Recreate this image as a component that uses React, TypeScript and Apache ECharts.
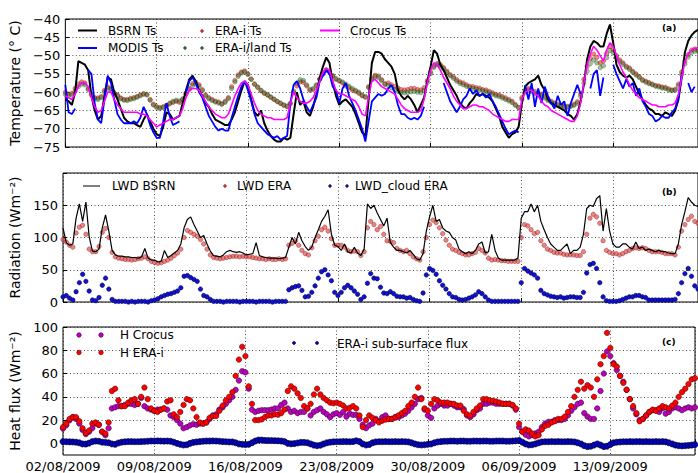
import React, { useEffect, useRef } from "react";
import * as echarts from "echarts";

// time step between samples, in days, starting 02/08/2009 00:00
const STEP = 0.25;
const START_UTC = Date.UTC(2009, 7, 2);
const X_MAX = 48.5;

// ---- Panel (a): surface temperature (deg C)
const BSRN_TS = [
  -62, -62.5, -63.5, -60, -51.5, -52, -52.5, -54, -61, -65, -67.5, -66.5, -61, -56, -56.5, -60,
  -62, -64.5, -67, -68, -68.5, -68.5, -69, -69.5, -67.5, -66, -68, -70, -71.5, -72, -69.5, -65.5,
  -66, -67.5, -67, -66.5, -63, -59.5, -56.5, -55.5, -57, -59.5, -61, -63, -64, -66, -67.5, -68,
  -68.5, -69, -69, -67.5, -65.5, -62.5, -59.5, -57, -58, -62, -65.5, -66.5, -65, -68.5, -70.5, -72,
  -73, -73.5, -73.5, -72.5, -73, -72.5, -66, -60, -63.5, -62.5, -65.5, -66.5, -64, -60.5, -56, -53,
  -50.5, -52, -57.5, -61, -63.5, -62.5, -62, -63, -64, -66, -68.5, -71, -72, -62, -52, -49,
  -49, -49.5, -51, -52, -53, -55, -59.5, -61, -62, -61, -62, -63.5, -65.5, -63.5, -61.5, -57,
  -53, -48.5, -49.5, -52.5, -54, -56, -58, -59.5, -61, -63, -64, -64.5, -63, -62, -60.5, -61,
  -60.5, -61, -61.5, -62.5, -64.5, -66.5, -69.5, -71, -72.5, -71.5, -71, -69.5, -63, -58.5, -57.5, -57,
  -56.5, -55.5, -58, -59.5, -62, -63, -63.5, -64, -64.5, -65, -66, -66.5, -67.5, -66, -62.5, -58,
  -51, -47.5, -46, -46.5, -47.5, -47.5, -44, -41.5, -46.5, -52.5, -54.5, -55.5, -56, -55.5, -56.5, -58.5,
  -60.5, -62, -63.5, -64.5, -65, -66, -66, -66.5, -65.5, -66, -66.5, -65, -62, -56, -49, -46,
  -44.5, -43.5, -43, -43,
];
const MODIS_TS = [
  -58, -65.5, -66, -64.5, null, null, null, -54, -55, -63, -67.5, -68.5, -62, -55.5, -57.5, -62,
  -66, -67.5, -68.5, -68.5, -68.5, -68, -68.5, -67, -64, -66, -69, -71, -72.5, -72.5, -68, -63,
  -66.5, -69, -68.5, -68, null, -60, -57, -56, -57.5, -60, -61.5, -64, -66.5, -68, -69.5, -70.5,
  -70, -70.5, -70.5, -67, -64, -61, -58.5, -57, -59.5, -62.5, -66, -68.5, -69.5, -70.5, -71.5, -72,
  -72.5, -72, -73, -72.5, -72, -63, -58, -57, -59, -62, -64, -65.5, -63.5, -61.5, -57, -55.5,
  -54, -55, -58.5, -59.5, -63, -59, -57.5, -61, -63, -65, -67.5, -70, -73.5, -68, -62.5, -61.5,
  -60.5, -61, -60.5, -59, -58, -60, -63.5, -66, -66, -67, -67.5, -67, -67.5, -66.5, -64, null,
  null, null, null, null, -57.5, -60, -62.5, -64, -65.5, -64, -62, -61, -59, -60.5, -59.5, -61,
  -60.5, -61.5, -60.5, -62.5, -64, -66, -68, -70, -71.5, -71, -70.5, -71, null, -58, -62, -57.5,
  -64, -59, -63, -58.5, -61, -63, -64.5, -61, -63.5, -62.5, -66.5, -63, -60.5, -58, -60.5, null,
  null, -59, -55, -54, -61, -56, null, null, -52.5, -55, -57, -59, -56.5, -58.5, -57.5, -61,
  -59, -62.5, -64, -66, -66.5, -68, -67.5, -66.5, -67, -67, -65.5, -64.5, -61.5, -55, null, -57.5,
  -60, -58.5, null, null,
];
const CROCUS_TS = [
  -61, -61.5, -62, -60.5, -58.5, -57.5, -57.5, -58.5, -61.5, -64, -65.5, -65, -62.5, -60, -60, -62,
  -63.5, -64.5, -65.5, -65.5, -65.5, -65.5, -65.5, -66, -66, -66.5, -67.5, -68.5, -69.5, -69, -68.5, -68,
  -67.5, -67.5, -67, -66.5, -64.5, -61.5, -59.5, -59, -59, -59.5, -61, -62.5, -64, -65, -66, -66.5,
  -67, -67, -66, -63.5, -61, -59, -57.5, -57, -58, -60.5, -63, -65, -66, -66.5, -67, -67,
  -67.5, -67.5, -67.5, -67.5, -67, -63, -60, -61.5, -62.5, -63, -63, -62.5, -61.5, -59.5, -57, -54.5,
  -53.5, -54, -57, -59.5, -60.5, -60.5, -61, -61.5, -62, -62.5, -64, -66, -66.5, -61, -57, -56.5,
  -57.5, -58.5, -59, -59.5, -60, -60.5, -62, -63.5, -64.5, -65, -65.5, -65.5, -65.5, -65, -62, -57.5,
  -54, -52, -52.5, -54, -56, -57.5, -59, -61, -62.5, -63.5, -64.5, -64.5, -64, -63.5, -63.5, -64,
  -64, -64.5, -65, -66, -66.5, -67, -67.5, -68, -68, -67.5, -67.5, -67.5, -62, -60, -59.5, -59.5,
  -60.5, -61, -62.5, -63.5, -64, -65, -65.5, -66, -66.5, -67, -67.5, -68, -68, -66.5, -63, -57.5,
  -52.5, -49.5, -47.5, -48.5, -50, -51.5, -48.5, -46.5, -47.5, -50, -52.5, -54.5, -56, -58, -59.5, -60.5,
  -61.5, -62, -62.5, -63, -63.5, -63.5, -64, -64, -64, -63.5, -63.5, -63, -60.5, -56, -51.5, -49.5,
  -48.5, -48, -48, -48,
];
const ERA_TS = [
  -60, -60.5, -60.3, -59, -57.8, -57.2, -57.5, -59, -60.5, -61.5, -61.6, -61.2, -59.5, -58.6, -59, -60.2,
  -60.8, -61.6, -62, -62, -61.7, -61.5, -61.2, -60.8, -60.4, -60.6, -62, -63.3, -63.9, -64.2, -64, -63.6,
  -63.2, -62.8, -62.5, -62.8, -62, -60.3, -59, -57.7, -57.3, -58, -59.3, -60.8, -61.5, -62, -62.5, -62.7,
  -63.2, -62.5, -61.5, -58.5, -56.8, -55.3, -54.5, -54.2, -55, -56.4, -57.8, -58.6, -59.6, -60.3, -60.8, -61.4,
  -62, -62.6, -63.1, -63.6, -64, -63.2, -60, -58.3, -57.2, -57.3, -58.3, -59.5, -59.3, -58.2, -56.5, -55,
  -53.9, -54.3, -55.5, -56.5, -57, -57.5, -58.3, -58.8, -59.4, -59.8, -60.3, -61, -61.4, -58.5, -56.2, -55.4,
  -55.6, -56.6, -57.7, -57.5, -58, -58.5, -58.9, -59.3, -59.4, -59.3, -59, -59, -59.3, -59.4, -58.8, -56.8,
  -54.5, -52.9, -52.2, -52.5, -53.3, -54.3, -55.2, -55.8, -56.6, -57.2, -57.5, -58, -58.4, -58.5, -58.8, -58.9,
  -59.3, -59.4, -59.8, -60.2, -60.6, -60.8, -61.2, -61.6, -62, -62.5, -63.4, -64.2, -61.5, -59.6, -59, -59.4,
  -59.8, -60.2, -60.6, -61.2, -62, -62.5, -63, -63.4, -63.6, -63.8, -63.9, -63.7, -63.3, -62.6, -60.5, -56.5,
  -53, -50.8, -49.6, -50.5, -52, -51.5, -49.4, -47.6, -48.4, -50, -51.2, -52, -52.9, -53.4, -54.3, -55,
  -55.8, -56.6, -57, -57.4, -57.8, -58.2, -58.3, -58.6, -58.7, -59.1, -59.4, -59.2, -57.8, -54.5, -51.5, -49.7,
  -48.5, -48.2, -48.3, -48.5,
];
const ERA_LAND_TS = [
  -60.6, -61, -60.8, -59.8, -58.5, -57.8, -58, -59.3, -60.8, -61.8, -62, -61.5, -60, -59, -59.3, -60.3,
  -61, -61.8, -62.2, -62.3, -62, -61.8, -61.4, -61, -60.6, -60.8, -62.2, -63.5, -64.2, -64.5, -64.2, -63.8,
  -63, -62.5, -62.2, -62.4, -61.8, -60.5, -59.3, -58.2, -57.8, -58.4, -59.6, -61, -61.8, -62.3, -62.7, -63,
  -63.3, -62.8, -61.8, -59, -57.2, -55.7, -54.8, -54.5, -55.2, -56.5, -57.8, -58.7, -59.5, -60.2, -60.7, -61.3,
  -61.9, -62.5, -63, -63.5, -63.8, -63, -59.7, -57.6, -56.6, -56.8, -58, -59.2, -59, -58, -56.4, -55,
  -54, -54.5, -55.6, -56.3, -56.7, -57.2, -57.8, -58.4, -59, -59.5, -60, -60.8, -61.2, -58.8, -56.6, -55.8,
  -56, -56.9, -57.9, -58.2, -58.8, -59.3, -59.8, -60.1, -60.2, -60.1, -59.9, -59.8, -60, -60.1, -59.5, -57.4,
  -55, -53.3, -52.5, -52.8, -53.6, -54.6, -55.5, -56.2, -57, -57.6, -58, -58.4, -58.8, -59, -59.2, -59.4,
  -59.7, -59.9, -60.2, -60.6, -61, -61.2, -61.6, -62, -62.4, -62.9, -63.6, -64.3, -62, -60, -59.4, -59.8,
  -60.3, -60.7, -61, -61.6, -62.3, -62.8, -63.2, -63.6, -63.8, -64, -64.1, -63.9, -63.6, -63, -61.2, -57.5,
  -54.3, -52.2, -51.2, -52, -53.3, -52.8, -50.6, -48.6, -49.2, -50.6, -51.6, -52.4, -53.2, -53.8, -54.6, -55.3,
  -56, -56.8, -57.3, -57.7, -58, -58.4, -58.6, -58.9, -59, -59.4, -59.6, -59.5, -58.3, -55.2, -52.3, -50.4,
  -49.2, -48.8, -48.8, -49,
];

// ---- Panel (b): longwave downward radiation (W m-2)
const LWD_BSRN = [
  115, 92, 88, 90, 130, 152, 125, 155, 101, 79, 78, 82, 115, 135, 110, 80,
  73, 71, 71, 70, 70, 69, 69, 68, 70, 83, 68, 65, 65, 62, 63, 80,
  69, 72, 76, 80, 90, 115, 128, 132, 120, 110, 100, 103, 90, 79, 72, 71,
  70, 73, 78, 80, 78, 77, 78, 76, 73, 74, 75, 92, 72, 70, 69, 68,
  68, 68, 67, 68, 69, 85, 100, 90, 108, 95, 86, 80, 85, 100, 112, 125,
  133, 143, 105, 88, 86, 80, 90, 78, 76, 85, 76, 72, 82, 152, 145, 150,
  138, 128, 118, 130, 92, 85, 80, 80, 78, 76, 80, 74, 67, 65, 75, 110,
  132, 150, 125, 128, 115, 110, 108, 100, 96, 82, 78, 75, 78, 75, 80, 90,
  93, 76, 78, 105, 80, 68, 65, 65, 65, 65, 65, 68, 130, 140, 140, 152,
  140, 150, 125, 112, 100, 90, 85, 80, 80, 85, 90, 75, 80, 80, 85, 105,
  145, 150, 148, 160, 165, 110, 145, 110, 90, 85, 85, 90, 90, 85, 82, 93,
  83, 85, 80, 82, 80, 78, 80, 78, 78, 76, 75, 75, 90, 120, 140, 162,
  155, 150, 148, 150,
];
const LWD_ERA = [
  97, 93, 88, 85, 107, 116, 119, 105, 82, 78, 78, 86, 108, 114, 100, 77,
  70, 68, 67, 66, 66, 65, 66, 67, 68, 70, 67, 63, 61, 60, 61, 63,
  65, 68, 72, 76, 82, 100, 111, 108, 105, 102, 97, 90, 82, 73, 69, 68,
  67, 68, 69, 70, 71, 71, 70, 71, 70, 70, 69, 68, 67, 67, 66, 67,
  66, 66, 67, 66, 67, 88, 91, 95, 88, 80, 75, 73, 84, 95, 102, 112,
  116, 110, 98, 88, 88, 88, 85, 80, 78, 79, 78, 72, 78, 115, 125, 120,
  112, 117, 105, 95, 94, 92, 83, 80, 78, 80, 75, 70, 67, 65, 78, 100,
  120, 127, 123, 115, 106, 96, 88, 82, 80, 77, 75, 73, 73, 75, 77, 83,
  80, 76, 68, 65, 66, 65, 64, 64, 63, 63, 63, 63, 100, 120, 118, 112,
  106, 108, 95, 88, 82, 80, 77, 76, 76, 74, 73, 73, 73, 72, 72, 78,
  105, 130, 136, 132, 122, 95, 80, 77, 75, 75, 73, 75, 78, 80, 83, 84,
  83, 84, 83, 80, 78, 78, 78, 77, 75, 75, 75, 73, 85, 110, 120, 128,
  133, 125, 122, 120,
];
const LWD_CLOUD_ERA = [
  8, 10, 6, 3, 16, 30, 43, 32, 17, 3, 2, 7, 26, 37, 20, 4,
  1, 1, 1, 1, 0, 1, 0, 1, 1, 1, 0, 2, 3, 5, 8, 10,
  12, 13, 15, 17, 22, 40, 41, 38, 35, 32, 20, 10, 8, 4, 1, 1,
  1, 0, 1, 1, 1, 1, 0, 1, 1, 1, 1, 0, 1, 1, 1, 1,
  0, 1, 1, 1, 1, 19, 22, 24, 25, 18, 8, 9, 15, 25, 37, 47,
  50, 42, 33, 15, 10, 15, 22, 26, 22, 17, 12, 4, 8, 29, 44, 37,
  36, 23, 14, 13, 16, 13, 9, 8, 8, 6, 7, 4, 2, 1, 14, 42,
  52, 49, 43, 33, 26, 20, 13, 8, 7, 4, 3, 4, 6, 8, 11, 16,
  13, 8, 3, 1, 1, 1, 1, 1, 1, 1, 1, 1, 30, 52, 48, 45,
  42, 37, 18, 13, 11, 9, 8, 7, 8, 6, 7, 8, 8, 7, 7, 15,
  45, 58, 60, 52, 30, 8, 2, 1, 1, 1, 2, 4, 6, 8, 8, 10,
  10, 8, 7, 3, 3, 3, 3, 3, 3, 3, 3, 4, 13, 30, 44, 52,
  40, 25, 20, 18,
];

// ---- Panel (c): heat fluxes (W m-2)
const H_CROCUS = [
  12.7, 15.5, 19.8, 22.6, 21, 17, 11.5, 8, 10, 13, 17, 16, 10, 7, 13, 30,
  31, 32, 32, 33, 34, 34, 33, 34, 39, 32, 30, 29, 28, 29, 29, 30,
  29, 24, 22.6, 20, 17, 13, 14, 15.5, 16.5, 16, 17, 17, 18, 21, 24, 25,
  29, 31, 34, 37, 40, 46, 54, 62, 61, 47, 29, 27, 28, 28.5, 28.5, 28.5,
  29, 30, 30, 33, 35, 30, 27, 28, 26, 27, 27, 30, 24, 27, 28.5, 30,
  27, 25, 22.5, 25, 26, 24.5, 27, 23, 25.5, 24.5, 24.5, 21, 16, 13, 15.5, 17,
  21, 19, 22.5, 24, 21, 21, 22.5, 22.5, 24, 25.5, 28, 31, 34, 38, 39, 29,
  24, 22, 30, 32.5, 34, 32.5, 32.5, 34, 32.5, 31, 31, 29.5, 24, 22.5, 25, 28.5,
  30, 34, 34, 35, 35, 34, 34, 34, 34, 34, 32.5, 29, 14, 10, 7.5, 6,
  7, 8.5, 10, 14, 17, 18.5, 18.5, 20, 20, 20, 21, 24, 28, 31, 34, 35,
  26, 23, 21, 21, 30, 45, 60, 79, 75, 69, 63, 58, 53, 46, 38, 30,
  25, 20, 21, 24, 27, 28.5, 28.5, 27, 30, 25.5, 27, 30, 31, 30, 28.5, 30,
  31, 30, 31, 30,
];
const H_ERA = [
  14, 17, 21, 22.5, 22.5, 19, 13, 9, 11, 17, 18, 16, 10, 8.5, 18, 45,
  47, 37, 32, 32, 35, 37, 38, 34, 40, 48, 38, 30, 28, 27, 29, 30,
  36, 37, 25, 22.6, 27, 33, 38, 37, 30, 22.6, 18, 17, 18, 22, 23.5, 23.5,
  28, 32.5, 37, 40, 44, 58, 72, 83, 75, 49, 34, 20, 20, 20.6, 22.6, 24,
  24, 25, 24.6, 26, 29, 45, 49, 47, 43, 39, 32, 30, 34, 42, 47, 42,
  39, 37, 35, 34.5, 35, 34, 32.5, 30, 30.5, 32, 30, 24, 14, 20, 24, 22,
  20, 18, 19.5, 20.5, 21, 21, 22.5, 24, 26, 28, 32, 35, 40, 48, 38, 30,
  28, 34, 38, 37, 35, 35, 35, 34, 34, 32.5, 32.5, 28, 25, 24, 27, 30,
  32.5, 38, 38, 37, 36.5, 36, 35, 34, 34, 34, 33, 30, 17, 10, 12, 11,
  8.5, 6, 7, 12, 15, 16, 18, 19, 21, 21, 23, 27, 32, 40, 46, 53,
  47, 50, 48, 40, 55, 68, 75, 95, 82, 68, 66, 58, 52, 46, 38, 32,
  26, 19, 21, 24, 27, 29, 28, 30, 32, 31, 30, 32.5, 35, 40, 44, 47,
  51, 55, 56, 57,
];
const SUB_SURFACE_FLUX = [
  1.5, 1.4, 1.3, 1.2, 1.0, 0.5, -0.5, -0.6, 0.2, 1.5, 2.0, 1.8, 1.0, 0.8, 0.5, -0.5,
  -0.8, 0.3, 1.0, 1.3, 1.5, 1.5, 1.4, 1.4, 1.5, 1.6, 1.8, 2.0, 2.0, 2.1, 2.0, 1.9,
  2.0, 1.8, 1.0, 0.0, -0.8, -1.4, -1.2, 0.0, 0.8, 1.2, 1.5, 1.8, 2.0, 2.0, 2.1, 2.0,
  1.8, 1.5, 1.4, 1.2, 1.2, 0.5, -0.5, -0.8, -1.0, -0.8, 0.5, 2.0, 2.8, 2.8, 2.5, 2.4,
  2.4, 2.3, 2.2, 2.0, 1.5, 0.0, -0.4, -0.2, 0.3, 0.8, 0.8, 0.5, -0.5, -1.5, -2.0, -1.6,
  -0.5, 0.5, 1.0, 1.3, 1.4, 1.4, 1.5, 1.5, 1.4, 1.5, 2.2, 1.5, -0.5, -1.4, -1.0, 0.5,
  1.2, 1.4, 1.4, 1.5, 1.4, 1.4, 1.5, 1.4, 1.5, 1.4, 1.2, 0.5, -0.5, -1.2, -1.4, -1.2,
  -0.8, -0.5, 0.5, 1.2, 1.5, 1.8, 1.8, 2.0, 2.0, 1.8, 2.0, 2.0, 1.8, 1.8, 2.0, 2.0,
  1.9, 2.0, 2.0, 1.8, 1.8, 2.0, 2.0, 2.0, 1.8, 1.8, 2.0, 2.2, 2.5, 1.0, -0.5, -1.4,
  -1.2, -0.5, 0.5, 1.2, 1.4, 1.4, 1.5, 1.4, 1.5, 1.4, 1.4, 1.5, 1.4, 1.2, 0.5, -0.5,
  -2.0, -2.8, -2.5, -1.5, -0.5, -1.5, -2.8, -2.5, -1.0, 0.5, 1.0, 1.2, 1.4, 1.4, 1.5, 1.4,
  1.5, 1.5, 1.4, 1.5, 1.4, 1.4, 1.5, 1.4, 1.5, 1.3, 0.5, -0.5, -1.5, -2.0, -2.2, -2.0,
  -1.8, -1.5, -1.0, -0.5,
];

const FONT = "DejaVu Sans";

const toXY = (arr: (number | null)[]) => arr.map((v, i) => [i * STEP, v]);

const fmtDate = (d: number) => {
  const dt = new Date(START_UTC + d * 86400000);
  const dd = String(dt.getUTCDate()).padStart(2, "0");
  const mm = String(dt.getUTCMonth() + 1).padStart(2, "0");
  return `${dd}/${mm}/${dt.getUTCFullYear()}`;
};
const minus = (v: number) => String(v).replace("-", "\u2212");

export default function App() {
  const ref = useRef<HTMLDivElement>(null);

  useEffect(() => {
    if (!ref.current) return;
    const chart = echarts.init(ref.current, undefined, { renderer: "svg" });

    const grids = [
      { left: 63, top: 19, width: 637, height: 128 },
      { left: 63, top: 173, width: 637, height: 129 },
      { left: 63, top: 327, width: 637, height: 129 },
    ].map((g) => ({ ...g, show: true, borderColor: "#000", borderWidth: 1, backgroundColor: "transparent" }));

    const splitLine = { show: true, lineStyle: { color: "#222", width: 0.8, type: [1, 2.5] as any } };

    const xAxes = [0, 1, 2].map((i) => ({
      type: "value" as const,
      gridIndex: i,
      min: 0,
      max: X_MAX,
      interval: 7,
      axisLine: { show: false },
      axisTick: { show: true, inside: true, length: 4, lineStyle: { color: "#000" } },
      splitLine,
      axisLabel: {
        show: i === 2,
        margin: 5,
        fontSize: 13,
        fontFamily: FONT,
        color: "#000",
        formatter: (v: number) => (v % 7 === 0 && v < X_MAX ? fmtDate(v) : ""),
      },
    }));

    const nameStyle = { fontSize: 14, fontFamily: FONT, color: "#000" };
    const labelStyle = { fontSize: 13, fontFamily: FONT, color: "#000", margin: 5 };
    const yTick = { show: true, inside: true, length: 4, lineStyle: { color: "#000" } };

    const yAxes = [
      {
        type: "value" as const,
        gridIndex: 0,
        min: -75,
        max: -40,
        interval: 5,
        name: "Temperature (\u00b0 C)",
        nameLocation: "middle" as const,
        nameRotate: 90,
        nameGap: 38,
        nameTextStyle: nameStyle,
        axisLine: { show: false },
        axisTick: yTick,
        splitLine,
        axisLabel: { ...labelStyle, formatter: (v: number) => minus(v) },
      },
      {
        type: "value" as const,
        gridIndex: 1,
        min: 0,
        max: 200,
        interval: 50,
        name: "Radiation (Wm\u207b\u00b2)",
        nameLocation: "middle" as const,
        nameRotate: 90,
        nameGap: 36,
        nameTextStyle: nameStyle,
        axisLine: { show: false },
        axisTick: yTick,
        splitLine,
        axisLabel: { ...labelStyle, formatter: (v: number) => (v === 200 ? "" : String(v)) },
      },
      {
        type: "value" as const,
        gridIndex: 2,
        min: -10,
        max: 100,
        name: "Heat flux (Wm\u207b\u00b2)",
        nameLocation: "middle" as const,
        nameRotate: 90,
        nameGap: 36,
        nameTextStyle: nameStyle,
        axisLine: { show: false },
        axisTick: { ...yTick, customValues: [0, 20, 40, 60, 80, 100] },
        splitLine,
        axisLabel: { ...labelStyle, customValues: [0, 20, 40, 60, 80, 100], formatter: (v: number) => String(v) },
      },
    ];

    const line = (name: string, data: (number | null)[], idx: number, color: string, width: number) => ({
      name,
      type: "line" as const,
      xAxisIndex: idx,
      yAxisIndex: idx,
      data: toXY(data),
      showSymbol: false,
      connectNulls: false,
      lineStyle: { color, width },
      itemStyle: { color },
      silent: true,
    });
    const dots = (
      name: string,
      data: number[],
      idx: number,
      color: string,
      size: number,
      border = "rgba(0,0,0,0.6)",
      bw = 0.5
    ) => ({
      name,
      type: "scatter" as const,
      xAxisIndex: idx,
      yAxisIndex: idx,
      data: toXY(data),
      symbol: "circle",
      symbolSize: size,
      itemStyle: { color, borderColor: border, borderWidth: bw, opacity: 1 },
      silent: true,
    });

    const series = [
      line("BSRN Ts", BSRN_TS, 0, "#000000", 2),
      line("MODIS Ts", MODIS_TS, 0, "#0000ff", 1.8),
      dots("ERA-i Ts", ERA_TS, 0, "rgba(240,50,50,0.6)", 4.5, "rgba(90,0,0,0.55)"),
      dots("ERA-i/land Ts", ERA_LAND_TS, 0, "rgba(40,120,40,0.45)", 4.5, "rgba(0,50,0,0.5)"),
      line("Crocus Ts", CROCUS_TS, 0, "#ff00ff", 1.6),
      line("LWD BSRN", LWD_BSRN, 1, "#000000", 1.2),
      dots("LWD ERA", LWD_ERA, 1, "rgba(225,80,80,0.7)", 4.5, "rgba(110,0,0,0.65)"),
      dots("LWD_cloud ERA", LWD_CLOUD_ERA, 1, "#1010d8", 4.5, "#000020"),
      dots("H Crocus", H_CROCUS, 2, "#bb00bb", 5.5, "#200020"),
      dots("H ERA-i", H_ERA, 2, "#ff0000", 5.5, "#300000"),
      dots("ERA-i sub-surface flux", SUB_SURFACE_FLUX, 2, "#0000c8", 6, "#000010", 0.7),
    ];

    const txt = (text: string, x: number, y: number, size = 12, bold = false) => ({
      type: "text" as const,
      x,
      y,
      silent: true,
      style: {
        text,
        fill: "#000",
        fontSize: size,
        fontFamily: FONT,
        fontWeight: bold ? "bold" : "normal",
        verticalAlign: "middle",
        align: "left",
      },
    });
    const seg = (x1: number, x2: number, y: number, color: string, w: number) => ({
      type: "line" as const,
      silent: true,
      shape: { x1, y1: y, x2, y2: y },
      style: { stroke: color, lineWidth: w },
    });
    const dot = (cx: number, cy: number, r: number, color: string, edge = "#000") => ({
      type: "circle" as const,
      silent: true,
      shape: { cx, cy, r },
      style: { fill: color, stroke: edge, lineWidth: 0.5 },
    });

    const graphic = [
      // panel (a) legend
      seg(78, 97, 30.5, "#000", 2),
      txt("BSRN Ts", 108, 31),
      seg(78, 97, 48, "#0000ff", 2),
      txt("MODIS Ts", 108, 48),
      dot(202, 31, 1.4, "#e03030", "#600"),
      txt("ERA-i Ts", 215, 31),
      dot(185, 48, 1.4, "#2a7a2a", "#030"),
      dot(202, 48, 1.4, "#2a7a2a", "#030"),
      txt("ERA-i/land Ts", 215, 48),
      seg(320, 340, 30.5, "#ff00ff", 2),
      txt("Crocus Ts", 350, 31),
      txt("(a)", 662, 28, 9, true),
      // panel (b) legend
      seg(83, 100, 186, "#000", 1),
      txt("LWD BSRN", 112, 186),
      dot(225, 186, 1.4, "#d04040", "#600"),
      txt("LWD ERA", 237, 186),
      dot(330, 186, 1.4, "#1010d8", "#000"),
      dot(347, 186, 1.4, "#1010d8", "#000"),
      txt("LWD_cloud ERA", 355, 186),
      txt("(b)", 662, 192, 9, true),
      // panel (c) legend
      dot(79, 335, 2.3, "#bb00bb", "#200020"),
      dot(101, 335, 2.3, "#bb00bb", "#200020"),
      txt("H Crocus", 120, 335),
      dot(79, 352.5, 2.3, "#ff0000", "#300000"),
      dot(101, 352.5, 2.3, "#ff0000", "#300000"),
      txt("H ERA-i", 120, 352.5),
      dot(294, 343, 1.6, "#0000c8", "#000010"),
      dot(317, 343, 1.6, "#0000c8", "#000010"),
      txt("ERA-i sub-surface flux", 337, 344),
      txt("(c)", 662, 342, 9, true),
    ];

    chart.setOption({
      animation: false,
      backgroundColor: "#ffffff",
      textStyle: { fontFamily: FONT },
      grid: grids,
      xAxis: xAxes,
      yAxis: yAxes,
      series,
      graphic,
    });

    return () => chart.dispose();
  }, []);

  return (
    <div
      ref={ref}
      style={{ position: "fixed", left: 0, top: 0, width: 698, height: 473, background: "#fff" }}
    />
  );
}
